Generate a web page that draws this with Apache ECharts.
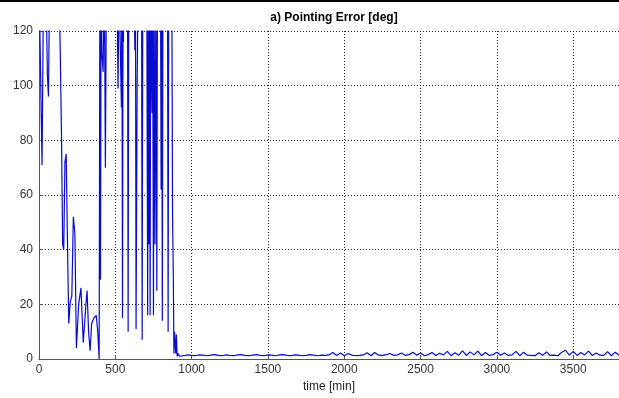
<!DOCTYPE html>
<html><head><meta charset="utf-8">
<script src="https://cdn.jsdelivr.net/npm/echarts@6/dist/echarts.min.js"></script>
<style>html,body{margin:0;padding:0;background:#fff}#c{width:619px;height:398px}</style>
</head><body><div id="c"></div>
<script>
var titleText = "a) Pointing Error [deg]";
var xName = "time [min]";
var xTicks = [0, 500, 1000, 1500, 2000, 2500, 3000, 3500];
var yTicks = [0, 20, 40, 60, 80, 100, 120];

// transient phase (values above 120 are clipped at the top of the axes)
var timeA = [0,12,20,30,45,55,62,70,130,140,
  148,155,162,170,178,186,195,205,215,225,
  235,245,260,275,290,305,315,325,335,345,
  360,375,385,394,399,403,407,412,420,428,
  435,442,510,518,524,540,543,547,551,553,
  557,580,584,588,622,628,632,636,643,650,
  672,676,680,706,712,716,720,724,728,732,
  740,744,750,754,760,766,772,776,796,800,
  804,808,812,842,846,850,870,875,880,884,
  888,892,896,900,905,912,920,930];
var errA = [140,140,71,140,140,104,96,140,140,110,
  79,42,40,72,75,45,13,21,23,52,
  46,4,20,26,6,18,25,10,3,13,
  15,16,10,0,140,29,140,112,105,140,
  70,140,140,99,140,92,140,15,140,116,
  140,140,10,140,140,113,140,11,101,140,
  140,7,140,140,16,140,42,140,16,140,
  90,140,16,140,42,140,25,140,140,62,
  140,14,140,140,10,140,140,53,30,2,
  10,10,2,9,1,2,1,1.2];

// steady-state phase
var timeB = [950,975,1000,1025,1050,1075,1100,1125,1150,1175,
  1200,1225,1250,1275,1300,1325,1350,1375,1400,1425,
  1450,1475,1500,1525,1550,1575,1600,1625,1650,1675,
  1700,1725,1750,1775,1800,1825,1850,1875,1900,1925,
  1950,1975,2000,2025,2050,2075,2100,2125,2150,2175,
  2200,2225,2250,2275,2300,2325,2350,2375,2400,2425,
  2450,2475,2500,2525,2550,2575,2600,2625,2650,2675,
  2700,2725,2750,2775,2800,2825,2850,2875,2900,2925,
  2950,2975,3000,3025,3050,3075,3100,3125,3150,3175,
  3200,3225,3250,3275,3300,3325,3350,3375,3400,3425,
  3450,3475,3500,3525,3550,3575,3600,3625,3650,3675,
  3700,3725,3750,3775,3800];
var errB = [1.2,1.5,1.3,1.2,1.5,1.4,1.2,1.4,1.6,1.3,
  1.2,1.5,1.3,1.2,1.5,1.6,1.3,1.2,1.4,1.6,
  1.3,1.2,1.5,1.4,1.2,1.5,1.6,1.3,1.2,1.5,
  1.4,1.2,1.3,1.6,1.4,1.2,1.4,1.3,1.5,2.4,
  1.3,2.2,1.2,2.0,1.4,1.2,1.3,1.5,2.3,1.2,
  2.4,1.4,1.3,1.6,2.0,1.3,1.5,2.2,1.3,1.6,
  2.5,1.4,2.2,1.2,1.6,2.4,1.3,2.1,1.5,2.8,
  1.2,2.3,1.4,3.0,1.3,2.6,1.5,2.9,1.2,2.4,
  1.3,1.6,2.5,1.4,2.2,1.3,1.5,2.8,1.2,2.5,
  1.4,1.3,1.2,2.3,1.4,2.6,1.3,1.4,1.2,2.5,
  3.2,1.4,2.8,1.3,2.4,1.5,2.9,1.3,2.2,1.4,
  1.3,2.7,1.2,2.5,1.4];

var times = timeA.concat(timeB);
var errs = errA.concat(errB);
var seriesData = times.map(function (t, i) { return [t, errs[i]]; });

var chart = echarts.init(document.getElementById('c'), null, {renderer: 'canvas'});
var font = '"Liberation Sans", Arial, sans-serif';
chart.setOption({
  animation: false,
  backgroundColor: '#fff',
  title: {
    text: titleText, left: 329, top: 7, textAlign: 'center',
    textStyle: {fontFamily: font, fontSize: 12, fontWeight: 'bold', color: '#000'}
  },
  graphic: [{type: 'rect', left: 0, top: 0, shape: {width: 619, height: 2}, style: {fill: '#000'}}],
  grid: {left: 39, right: 0, top: 31, bottom: 39},
  xAxis: {
    type: 'value', min: 0, max: 3800, interval: 500,
    name: xName, nameLocation: 'middle', nameGap: 20,
    nameTextStyle: {fontFamily: font, fontSize: 12, color: '#222'},
    axisLine: {show: true, onZero: false, lineStyle: {color: '#555', width: 1}},
    axisTick: {show: true, inside: true, length: 4, lineStyle: {color: '#555'}},
    axisLabel: {fontFamily: font, fontSize: 12, color: '#333', margin: 5, showMaxLabel: false,
      formatter: function (v) { return xTicks.indexOf(v) >= 0 ? String(v) : ''; }},
    splitLine: {show: true, lineStyle: {color: '#000', width: 1, type: [1, 2], opacity: 0.85}}
  },
  yAxis: {
    type: 'value', min: 0, max: 120, interval: 20,
    axisLine: {show: true, onZero: false, lineStyle: {color: '#555', width: 1}},
    axisTick: {show: true, inside: true, length: 4, lineStyle: {color: '#555'}},
    axisLabel: {fontFamily: font, fontSize: 12, color: '#333', margin: 6,
      formatter: function (v) { return yTicks.indexOf(v) >= 0 ? String(v) : ''; }},
    splitLine: {show: true, lineStyle: {color: '#000', width: 1, type: [1, 2], opacity: 0.85}}
  },
  series: [{
    type: 'line', data: seriesData, showSymbol: false, symbol: 'none',
    clip: true, lineStyle: {color: '#0a0ad0', width: 1.2}
  }]
});
</script></body></html>
